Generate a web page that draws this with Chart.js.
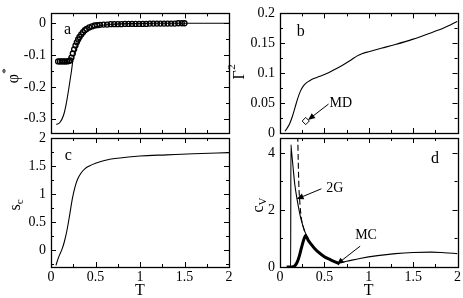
<!DOCTYPE html>
<html>
<head>
<meta charset="utf-8">
<script src="https://cdn.jsdelivr.net/npm/chart.js@4.4.1/dist/chart.umd.min.js"></script>
<style>
  html, body { margin: 0; padding: 0; background: #fff; }
  #wrap { position: relative; width: 463px; height: 298px; overflow: hidden; }
  #wrap canvas { position: absolute; left: 0; top: 0; }
</style>
</head>
<body>
<div id="wrap">
  <canvas id="pa" width="463" height="298"></canvas>
  <canvas id="pb" width="463" height="298"></canvas>
  <canvas id="pc" width="463" height="298"></canvas>
  <canvas id="pd" width="463" height="298"></canvas>
</div>
<script>
// panel a: phi* against T (line = theory, circles = simulation)
var phiLineT = [0.06, 0.1, 0.14, 0.17, 0.2, 0.23, 0.25, 0.28, 0.31, 0.35, 0.4, 0.47, 0.55, 0.7, 0.9, 1.2, 1.6, 2.0];
var phiLine  = [-0.318, -0.312, -0.29, -0.255, -0.205, -0.15, -0.11, -0.08, -0.06, -0.042, -0.027, -0.015, -0.008, -0.003, -0.001, 0, 0, 0];
var phiDotsT = [0.08, 0.10, 0.12, 0.14, 0.16, 0.18, 0.20, 0.215, 0.23, 0.245, 0.26, 0.275, 0.29, 0.305, 0.32, 0.34,
                0.36, 0.38, 0.40, 0.43, 0.46, 0.49, 0.52, 0.55, 0.59, 0.63, 0.67, 0.71, 0.75, 0.79, 0.83, 0.87,
                0.91, 0.95, 0.99, 1.03, 1.07, 1.11, 1.15, 1.19, 1.23, 1.27, 1.31, 1.35, 1.39, 1.43, 1.47, 1.50];
var phiDots  = [-0.12, -0.12, -0.12, -0.12, -0.12, -0.12, -0.119, -0.117, -0.108, -0.095, -0.082, -0.07, -0.06, -0.051, -0.043, -0.035,
                -0.028, -0.022, -0.018, -0.013, -0.01, -0.007, -0.006, -0.005, -0.004, -0.004, -0.003, -0.003, -0.003, -0.003, -0.002, -0.002,
                -0.002, -0.002, -0.002, -0.002, -0.002, -0.001, -0.001, -0.001, -0.001, -0.001, -0.001, -0.001, -0.001, 0, 0, 0];

// panel b: Gamma^2 against T
var gammaT = [0.056, 0.08, 0.11, 0.14, 0.17, 0.2, 0.23, 0.26, 0.29, 0.33, 0.38, 0.45, 0.52, 0.6, 0.7, 0.8, 0.87, 0.93, 1.0, 1.15, 1.3, 1.5, 1.67, 1.85, 2.0];
var gamma  = [0.003, 0.008, 0.016, 0.028, 0.043, 0.058, 0.07, 0.078, 0.083, 0.087, 0.091, 0.095, 0.099, 0.105, 0.113, 0.122, 0.129, 0.133, 0.136, 0.142, 0.148, 0.157, 0.166, 0.176, 0.187];
var mdT = [0.29];
var mdGamma = [0.02];

// panel c: s_c against T
var scT = [0.056, 0.08, 0.1, 0.12, 0.15, 0.18, 0.21, 0.24, 0.27, 0.3, 0.34, 0.38, 0.43, 0.5, 0.6, 0.75, 1.0, 1.3, 1.6, 2.0];
var sc  = [-0.27, -0.15, -0.07, 0.0, 0.15, 0.36, 0.63, 0.92, 1.13, 1.27, 1.38, 1.45, 1.5, 1.55, 1.6, 1.64, 1.68, 1.7, 1.72, 1.74];

// panel d: c_V against T (thin = theory, dashed = 2G, thick = MC)
var cvT  = [0.08, 0.12, 0.123, 0.13, 0.148, 0.167, 0.197, 0.234, 0.28, 0.353, 0.465, 0.55, 0.61, 0.67, 0.75, 0.9, 1.1, 1.3, 1.5, 1.7, 1.85, 2.0];
var cv   = [0, 0.02, 4.28, 4.05, 3.47, 2.88, 2.29, 1.71, 1.24, 0.77, 0.41, 0.27, 0.2, 0.15, 0.2, 0.3, 0.4, 0.47, 0.51, 0.52, 0.5, 0.47];
var cv2GT = [0.2, 0.205, 0.212, 0.225, 0.24, 0.26, 0.28, 0.353, 0.465, 0.55, 0.61, 0.67];
var cv2G  = [4.6, 3.8, 2.9, 2.2, 1.72, 1.42, 1.22, 0.8, 0.42, 0.27, 0.2, 0.13];
var cvMCT = [0.075, 0.12, 0.15, 0.17, 0.195, 0.22, 0.24, 0.26, 0.275, 0.288, 0.3, 0.316, 0.35, 0.39, 0.44, 0.5, 0.57, 0.65, 0.67];
var cvMC  = [0, 0, 0.01, 0.05, 0.18, 0.41, 0.65, 0.88, 1.02, 1.1, 1.05, 0.95, 0.8, 0.65, 0.5, 0.36, 0.25, 0.14, 0.11];

// axis steps
var tStep = 0.5, tMinor = 0.25;

var SERIF = '"Liberation Serif", "Times New Roman", serif';

function pts(xs, ys) {
  return xs.map(function(x, i) { return { x: x, y: ys[i] }; });
}

function tickValues(min, max, step) {
  var out = [];
  var s = Math.ceil(min / step - 1e-9), e = Math.floor(max / step + 1e-9);
  for (var i = s; i <= e; i++) out.push(i * step);
  return out;
}

function isMajor(v, step) {
  var r = v / step;
  return Math.abs(r - Math.round(r)) < 1e-6;
}

function plain(v) {
  return String(+v.toFixed(4));
}

function arrow(ctx, x1, y1, x2, y2) {
  var ang = Math.atan2(y2 - y1, x2 - x1), len = 7, wid = 3;
  ctx.beginPath();
  ctx.moveTo(x1, y1);
  ctx.lineTo(x2 - Math.cos(ang) * len * 0.8, y2 - Math.sin(ang) * len * 0.8);
  ctx.stroke();
  ctx.beginPath();
  ctx.moveTo(x2, y2);
  ctx.lineTo(x2 - Math.cos(ang) * len - Math.sin(ang) * wid, y2 - Math.sin(ang) * len + Math.cos(ang) * wid);
  ctx.lineTo(x2 - Math.cos(ang) * len + Math.sin(ang) * wid, y2 - Math.sin(ang) * len - Math.cos(ang) * wid);
  ctx.closePath();
  ctx.fill();
}

function rotatedTitle(ctx, cx, cy, main, script, sup) {
  ctx.save();
  ctx.translate(cx, cy);
  ctx.rotate(-Math.PI / 2);
  ctx.font = '16px ' + SERIF;
  var w1 = ctx.measureText(main).width;
  ctx.font = '11px ' + SERIF;
  var w2 = ctx.measureText(script).width;
  var x0 = -(w1 + w2) / 2;
  ctx.textAlign = 'left';
  ctx.textBaseline = 'alphabetic';
  ctx.font = '16px ' + SERIF;
  ctx.fillText(main, x0, 5);
  ctx.font = '11px ' + SERIF;
  ctx.fillText(script, x0 + w1 + (sup ? 0.5 : 0), sup ? -4 : 8);
  ctx.restore();
}

// frame, inward ticks and text for one panel
function decor(cfg) {
  return {
    id: 'decor',
    afterDatasetsDraw: function(chart) {
      var ctx = chart.ctx, a = chart.chartArea;
      var xs = chart.scales.x, ys = chart.scales.y;
      ctx.save();
      ctx.strokeStyle = '#000';
      ctx.fillStyle = '#000';
      ctx.lineWidth = 1;
      tickValues(xs.min, xs.max, tMinor).forEach(function(v) {
        var px = Math.round(xs.getPixelForValue(v)) + 0.5;
        var l = isMajor(v, tStep) ? 5 : 3;
        ctx.beginPath();
        ctx.moveTo(px, a.bottom); ctx.lineTo(px, a.bottom - l);
        ctx.moveTo(px, a.top); ctx.lineTo(px, a.top + l);
        ctx.stroke();
      });
      tickValues(ys.min, ys.max, cfg.yMinor).forEach(function(v) {
        var py = Math.round(ys.getPixelForValue(v)) + 0.5;
        var l = isMajor(v, cfg.yStep) ? 5 : 3;
        ctx.beginPath();
        ctx.moveTo(a.left, py); ctx.lineTo(a.left + l, py);
        ctx.moveTo(a.right, py); ctx.lineTo(a.right - l, py);
        ctx.stroke();
      });
      ctx.lineWidth = 1.3;
      ctx.strokeRect(Math.round(a.left) + 0.5, Math.round(a.top) + 0.5,
                     Math.round(a.right - a.left), Math.round(a.bottom - a.top));

      // panel letter
      ctx.font = '16px ' + SERIF;
      ctx.textAlign = 'center';
      ctx.textBaseline = 'middle';
      ctx.fillText(cfg.letter[0], xs.getPixelForValue(cfg.letter[1]), ys.getPixelForValue(cfg.letter[2]));

      // annotations with arrows
      ctx.lineWidth = 1;
      ctx.font = '14px ' + SERIF;
      ctx.textAlign = 'left';
      (cfg.notes || []).forEach(function(n) {
        ctx.fillText(n.text, xs.getPixelForValue(n.tx), ys.getPixelForValue(n.ty));
        arrow(ctx, xs.getPixelForValue(n.from[0]), ys.getPixelForValue(n.from[1]),
                   xs.getPixelForValue(n.to[0]), ys.getPixelForValue(n.to[1]));
      });

      // axis titles
      rotatedTitle(ctx, cfg.yTitle[2], cfg.yTitle[3], cfg.yTitle[0], cfg.yTitle[1], cfg.yTitle[4]);
      if (cfg.bottom) {
        ctx.font = '16px ' + SERIF;
        ctx.textAlign = 'center';
        ctx.textBaseline = 'middle';
        ctx.fillText('T', (a.left + a.right) / 2, a.bottom + 24);
      }
      ctx.restore();
    }
  };
}

function makePanel(id, box, y, datasets, cfg) {
  var tickFont = { family: SERIF, size: 14 };
  return new Chart(document.getElementById(id), {
    type: 'scatter',
    data: { datasets: datasets },
    options: {
      responsive: false,
      animation: false,
      events: [],
      layout: {
        padding: { left: box.left - 40, top: box.top, right: 463 - box.right,
                   bottom: 298 - box.bottom - (cfg.bottom ? 20 : 0) }
      },
      scales: {
        x: {
          type: 'linear', min: 0, max: 2,
          grid: { display: false, drawTicks: false },
          border: { display: false },
          ticks: { display: cfg.bottom, stepSize: tStep, padding: 2, color: '#000', font: tickFont, maxRotation: 0, callback: plain },
          afterFit: function(s) { s.height = cfg.bottom ? 20 : 0; }
        },
        y: {
          type: 'linear', min: y.min, max: y.max,
          grid: { display: false, drawTicks: false },
          border: { display: false },
          ticks: { stepSize: cfg.yStep, includeBounds: false, padding: 5, color: '#000', font: tickFont, callback: plain },
          afterFit: function(s) { s.width = 40; }
        }
      },
      plugins: { legend: { display: false }, tooltip: { enabled: false } }
    },
    plugins: [decor(cfg)]
  });
}

function line(data, extra) {
  var d = { data: data, showLine: true, borderColor: '#000', borderWidth: 1.1, pointRadius: 0, tension: 0.3, cubicInterpolationMode: 'monotone' };
  for (var k in extra) d[k] = extra[k];
  return d;
}

makePanel('pa', { left: 51, top: 5, right: 229, bottom: 133 }, { min: -0.345, max: 0.031 }, [
  line(pts(phiLineT, phiLine), {}),
  { data: pts(phiDotsT, phiDots), showLine: false, pointStyle: 'circle', pointRadius: 2.5,
    borderColor: '#000', borderWidth: 1.3, backgroundColor: 'rgba(0,0,0,0)' }
], { yStep: 0.1, yMinor: 0.05, letter: ['a', 0.185, -0.019], yTitle: ['\u03c6', '*', 13, 76, true] });

makePanel('pb', { left: 280, top: 5, right: 459, bottom: 133 }, { min: 0, max: 0.2 }, [
  line(pts(gammaT, gamma), {}),
  { data: pts(mdT, mdGamma), showLine: false, pointStyle: 'rectRot', pointRadius: 3.6,
    borderColor: '#000', borderWidth: 1, backgroundColor: '#fff' }
], { yStep: 0.05, yMinor: 0.025, letter: ['b', 0.234, 0.17], yTitle: ['\u0393', '2', 239, 72, true],
     notes: [{ text: 'MD', tx: 0.559, ty: 0.049, from: [0.547, 0.0484], to: [0.316, 0.0219] }] });

makePanel('pc', { left: 51, top: 138, right: 229, bottom: 267 }, { min: -0.3, max: 2 }, [
  line(pts(scT, sc), {})
], { yStep: 0.5, yMinor: 0.25, letter: ['c', 0.195, 1.68], yTitle: ['s', 'c', 15, 205, false], bottom: true });

makePanel('pd', { left: 280, top: 138, right: 459, bottom: 267 }, { min: 0, max: 4.52 }, [
  line(pts(cvMCT, cvMC), { borderWidth: 3 }),
  line(pts(cv2GT, cv2G), { borderDash: [6, 3] }),
  line(pts(cvT, cv), { tension: 0 })
], { yStep: 2, yMinor: 1, letter: ['d', 1.746, 3.8], yTitle: ['c', 'V', 258, 205, false], bottom: true,
     notes: [{ text: '2G', tx: 0.52, ty: 2.74, from: [0.466, 2.74], to: [0.187, 2.38] },
             { text: 'MC', tx: 0.847, ty: 1.12, from: [0.903, 0.73], to: [0.64, 0.095] }] });
</script>
</body>
</html>
